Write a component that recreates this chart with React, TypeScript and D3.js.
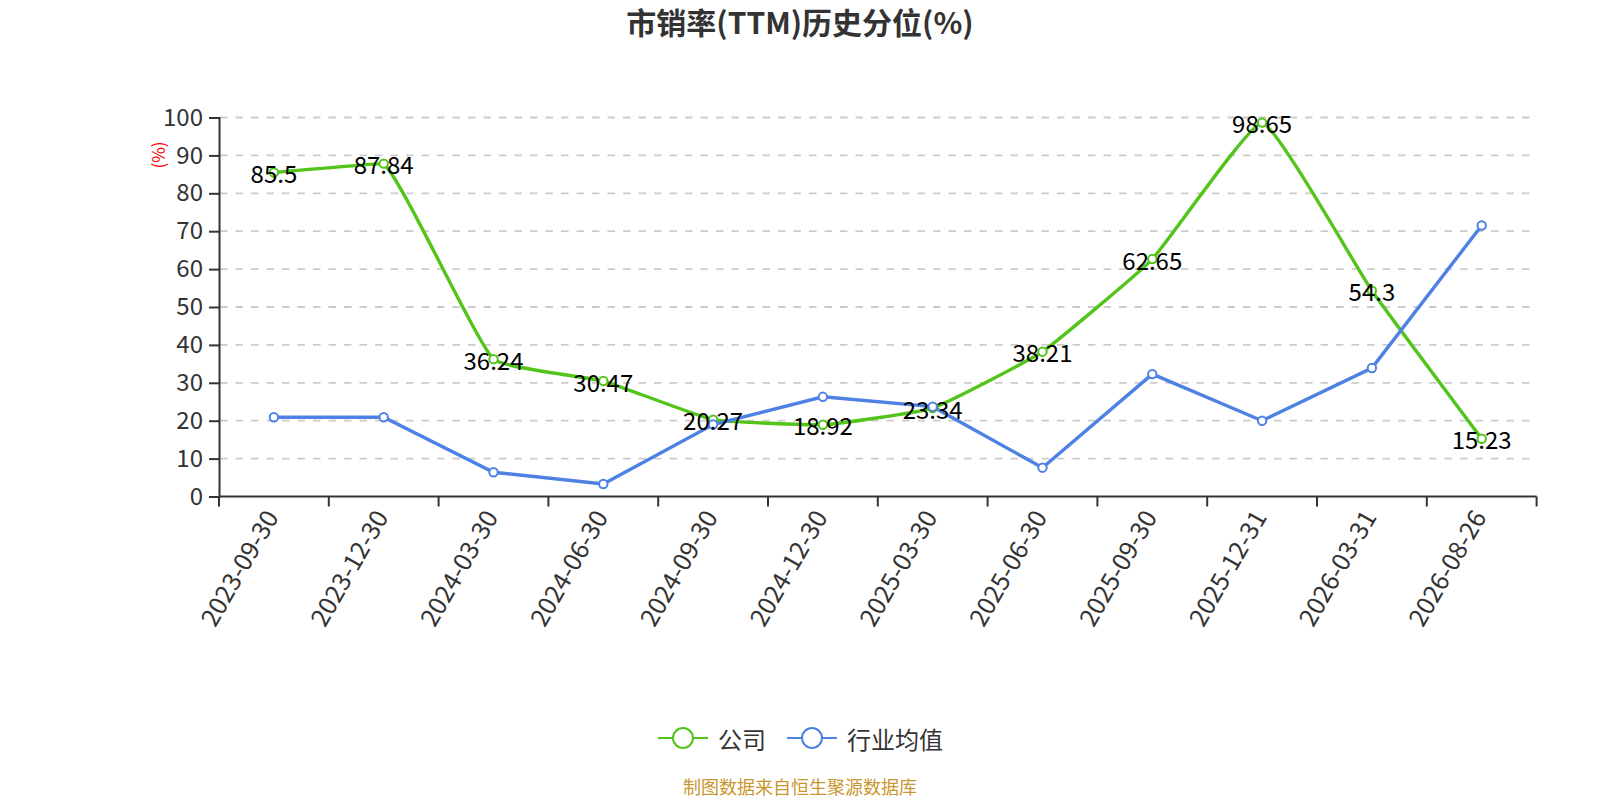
import React, { useRef, useEffect } from "react";
import * as d3 from "d3";

const dates = [
  "2023-09-30", "2023-12-30", "2024-03-30", "2024-06-30", "2024-09-30", "2024-12-30",
  "2025-03-30", "2025-06-30", "2025-09-30", "2025-12-31", "2026-03-31", "2026-08-26",
];
const companyValues = [85.5, 87.84, 36.24, 30.47, 20.27, 18.92, 23.34, 38.21, 62.65, 98.65, 54.3, 15.23];
const industryValues = [20.9, 20.9, 6.4, 3.3, 19.0, 26.3, 23.7, 7.6, 32.3, 20.0, 33.9, 71.5];
const yTicks = [0, 10, 20, 30, 40, 50, 60, 70, 80, 90, 100];

const FONT = "'Noto Sans CJK SC', 'Noto Sans', sans-serif";
const GREEN = "#52c41a";
const BLUE = "#4e81e4";

// light bezier smoothing, control points kept inside each segment's y range
function softCurve(smooth: number) {
  return (context: any) => {
    let pts: [number, number][] = [];
    const clamp = (v: number, a: number, b: number) => Math.max(Math.min(a, b), Math.min(Math.max(a, b), v));
    return {
      areaStart() {},
      areaEnd() {},
      lineStart() { pts = []; },
      point(x: number, y: number) { pts.push([x, y]); },
      lineEnd() {
        const n = pts.length;
        if (!n) return;
        context.moveTo(pts[0][0], pts[0][1]);
        let c0x = pts[0][0], c0y = pts[0][1];
        for (let i = 1; i < n; i++) {
          const [x, y] = pts[i];
          const [px, py] = pts[i - 1];
          if (i === n - 1) {
            context.bezierCurveTo(c0x, c0y, x, y, x, y);
            break;
          }
          const [nx, ny] = pts[i + 1];
          const vx = nx - px, vy = ny - py;
          const l0 = Math.hypot(x - px, y - py), l1 = Math.hypot(nx - x, ny - y);
          const r = l1 / (l0 + l1);
          const c1x = x - vx * smooth * (1 - r);
          const c1y = clamp(y - vy * smooth * (1 - r), py, y);
          context.bezierCurveTo(c0x, c0y, c1x, c1y, x, y);
          c0x = x + vx * smooth * r;
          c0y = clamp(y + vy * smooth * r, y, ny);
        }
      },
    };
  };
}

export default function App() {
  const ref = useRef<SVGSVGElement | null>(null);
  const width = 1600, height = 800;
  const margin = { top: 117.5, right: 63.4, bottom: 303.5, left: 219 };

  useEffect(() => {
    const svg = d3.select(ref.current);
    svg.selectAll("*").remove();

    const x = d3.scaleBand().domain(dates).range([margin.left, width - margin.right]);
    const y = d3.scaleLinear().domain([0, 100]).range([height - margin.bottom, margin.top]);
    const cx = (d: string) => (x(d) as number) + x.bandwidth() / 2;
    const y0 = y(0);

    // title
    svg.append("text")
      .attr("x", 800).attr("y", 34)
      .attr("text-anchor", "middle")
      .attr("font-family", FONT).attr("font-size", 30).attr("font-weight", "bold")
      .attr("fill", "#333")
      .text("市销率(TTM)历史分位(%)");

    // grid
    svg.append("g").selectAll("line")
      .data(yTicks.filter(t => t > 0))
      .join("line")
      .attr("x1", margin.left + 1).attr("x2", width - margin.right)
      .attr("y1", d => y(d)).attr("y2", d => y(d))
      .attr("stroke", "#ccc").attr("stroke-width", 1.8)
      .attr("stroke-dasharray", "7.5,8");

    // y axis
    const yAxis = svg.append("g")
      .attr("transform", `translate(${margin.left},0)`)
      .call(d3.axisLeft(y).tickValues(yTicks).tickSize(10).tickPadding(6));
    yAxis.select(".domain").attr("stroke", "#333").attr("stroke-width", 2);
    yAxis.selectAll(".tick line").attr("stroke", "#333").attr("stroke-width", 2);
    yAxis.selectAll(".tick text")
      .attr("font-family", FONT).attr("font-size", 24).attr("fill", "#333");

    svg.append("text")
      .attr("transform", `translate(157,155) rotate(-90)`)
      .attr("text-anchor", "middle").attr("dominant-baseline", "central")
      .attr("font-family", FONT).attr("font-size", 17).attr("fill", "red")
      .text("(%)");

    // x axis
    const xg = svg.append("g");
    xg.append("line")
      .attr("x1", margin.left).attr("x2", width - margin.right)
      .attr("y1", y0).attr("y2", y0)
      .attr("stroke", "#333").attr("stroke-width", 2);
    const bounds = dates.map(d => x(d) as number).concat([width - margin.right]);
    xg.selectAll("line.tk")
      .data(bounds)
      .join("line")
      .attr("class", "tk")
      .attr("x1", d => d).attr("x2", d => d)
      .attr("y1", y0).attr("y2", y0 + 10)
      .attr("stroke", "#333").attr("stroke-width", 2);
    xg.selectAll("text")
      .data(dates)
      .join("text")
      .attr("transform", d => `translate(${cx(d) - 4},${y0 + 15}) rotate(-60)`)
      .attr("text-anchor", "end").attr("dominant-baseline", "central")
      .attr("font-family", FONT).attr("font-size", 25).attr("fill", "#333")
      .text(d => d);

    // lines
    const straight = d3.line<number>()
      .x((_, i) => cx(dates[i]))
      .y(d => y(d));
    const smooth = d3.line<number>()
      .x((_, i) => cx(dates[i]))
      .y(d => y(d))
      .curve(softCurve(0.12) as any);

    svg.append("path")
      .datum(companyValues)
      .attr("d", smooth)
      .attr("fill", "none").attr("stroke", GREEN).attr("stroke-width", 3.4);
    svg.append("path")
      .datum(industryValues)
      .attr("d", straight)
      .attr("fill", "none").attr("stroke", BLUE).attr("stroke-width", 3.4);

    const marks = (vals: number[], color: string) =>
      svg.append("g").selectAll("circle")
        .data(vals)
        .join("circle")
        .attr("cx", (_, i) => cx(dates[i])).attr("cy", d => y(d))
        .attr("r", 4.2)
        .attr("fill", "#fff").attr("stroke", color).attr("stroke-width", 2);
    marks(companyValues, GREEN);
    marks(industryValues, BLUE);

    // data labels (company)
    svg.append("g").selectAll("text")
      .data(companyValues)
      .join("text")
      .attr("x", (_, i) => cx(dates[i])).attr("y", d => y(d))
      .attr("text-anchor", "middle").attr("dominant-baseline", "central")
      .attr("font-family", FONT).attr("font-size", 24).attr("fill", "#000")
      .text(d => String(d));

    // legend
    const legend = [
      { name: "公司", color: GREEN, x: 658 },
      { name: "行业均值", color: BLUE, x: 787 },
    ];
    const lg = svg.append("g").selectAll("g")
      .data(legend)
      .join("g")
      .attr("transform", d => `translate(${d.x},738)`);
    lg.append("line")
      .attr("x1", 0).attr("x2", 50).attr("y1", 0).attr("y2", 0)
      .attr("stroke", d => d.color).attr("stroke-width", 2);
    lg.append("circle")
      .attr("cx", 25).attr("cy", 0).attr("r", 10)
      .attr("fill", "#fff").attr("stroke", d => d.color).attr("stroke-width", 2);
    lg.append("text")
      .attr("x", 60).attr("y", 0)
      .attr("dominant-baseline", "central")
      .attr("font-family", FONT).attr("font-size", 24).attr("fill", "#333")
      .text(d => d.name);

    // source
    svg.append("text")
      .attr("x", 800).attr("y", 786)
      .attr("text-anchor", "middle").attr("dominant-baseline", "central")
      .attr("font-family", FONT).attr("font-size", 18).attr("fill", "#c9962f")
      .text("制图数据来自恒生聚源数据库");
  }, []);

  return (
    <div style={{ position: "absolute", left: 0, top: 0 }}>
      <svg ref={ref} width={width} height={height} style={{ display: "block", background: "#fff" }} />
    </div>
  );
}
